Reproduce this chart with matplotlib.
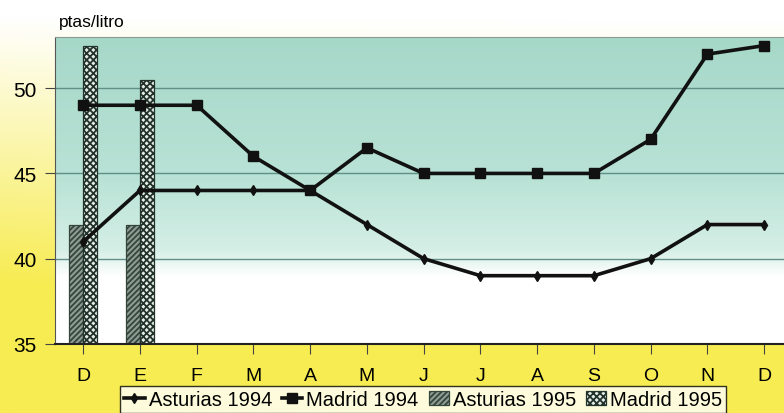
import numpy as np
import matplotlib
matplotlib.use('Agg')
import matplotlib.pyplot as plt
from matplotlib.colors import LinearSegmentedColormap

months = ['D', 'E', 'F', 'M', 'A', 'M', 'J', 'J', 'A', 'S', 'O', 'N', 'D']
asturias_1994 = [41, 44, 44, 44, 44, 42, 40, 39, 39, 39, 40, 42, 42]
madrid_1994 = [49, 49, 49, 46, 44, 46.5, 45, 45, 45, 45, 47, 52, 52.5]
asturias_1995 = [42, 42]
madrid_1995 = [52.5, 50.5]

plt.rcParams['font.family'] = ['Liberation Sans', 'DejaVu Sans']
plt.rcParams['hatch.linewidth'] = 1.3

fig = plt.figure(figsize=(7.84, 4.14), dpi=100)

# yellow page background, fading to white towards the top
bg = fig.add_axes([0, 0, 1, 1], zorder=-10)
yy, xx = np.mgrid[0:1:200j, 0:1:200j]
amount = np.clip((yy - 0.05) * 1.3 + (1 - xx) * 0.25 * yy, 0, 1)
amount[yy > 0.83] = 1
page = LinearSegmentedColormap.from_list('page', ['#ffffff', '#f7ec52'])
bg.imshow(amount, cmap=page, aspect='auto', extent=[0, 1, 1, 0], vmin=0, vmax=1)
bg.axis('off')

ax = fig.add_axes([0.070, 0.167, 0.93, 0.741])

# teal plot area, fading to white near the bottom
grad = np.linspace(0, 1, 200).reshape(-1, 1)
teal = LinearSegmentedColormap.from_list(
    'teal', [(0, '#a6d8c8'), (0.45, '#b8e2d5'), (0.70, '#d6efe7'),
             (0.78, '#ffffff'), (1, '#ffffff')])
ax.imshow(grad, cmap=teal, aspect='auto', extent=[-0.5, 12.35, 35, 53],
          origin='upper', zorder=0, vmin=0, vmax=1)
ax.set_xlim(-0.5, 12.35)
ax.set_ylim(35, 53)

for v in [40, 45, 50]:
    ax.axhline(v, color='#5f8f86', lw=1.0, zorder=1)

x = np.arange(len(months))
w = 0.25
bx = x[:len(asturias_1995)]
ax.bar(bx - w / 2, np.array(asturias_1995) - 35, w, bottom=35, facecolor='#8f9c94',
       edgecolor='#34453c', hatch='//////', lw=0.9, zorder=2, label='Asturias 1995')
ax.bar(bx + w / 2, np.array(madrid_1995) - 35, w, bottom=35, facecolor='#e6ede8',
       edgecolor='#22332b', hatch='xxxxx', lw=0.9, zorder=2, label='Madrid 1995')

ax.plot(x, asturias_1994, color='#111111', lw=2.6, marker='d', ms=5,
        zorder=3, label='Asturias 1994')
ax.plot(x, madrid_1994, color='#111111', lw=2.6, marker='s', ms=7,
        zorder=3, label='Madrid 1994')

ax.set_xticks(x)
ax.set_xticklabels(months, fontsize=14)
ax.set_yticks([35, 40, 45, 50])
ax.tick_params(axis='y', labelsize=15, length=7, pad=6, color='#444444')
ax.tick_params(axis='x', length=7, pad=10, color='#444444')
ax.spines['right'].set_visible(False)
ax.spines['top'].set_color('#8a9a94')
ax.spines['left'].set_color('#555555')
ax.spines['bottom'].set_color('#222222')
ax.spines['bottom'].set_linewidth(1.5)

fig.text(0.075, 0.945, 'ptas/litro', fontsize=12.5, ha='left', va='center')

h, l = ax.get_legend_handles_labels()
wanted = ['Asturias 1994', 'Madrid 1994', 'Asturias 1995', 'Madrid 1995']
hs = [h[l.index(name)] for name in wanted]
leg = fig.legend(hs, wanted, loc='lower center',
                 bbox_to_anchor=(0.54, -0.025), ncol=4, fontsize=14.5, frameon=True,
                 fancybox=False, edgecolor='black', handlelength=1.0,
                 handletextpad=0.2, columnspacing=0.5, borderpad=0.2)
leg.get_frame().set_linewidth(1.0)

fig.savefig('out.png', dpi=100)
